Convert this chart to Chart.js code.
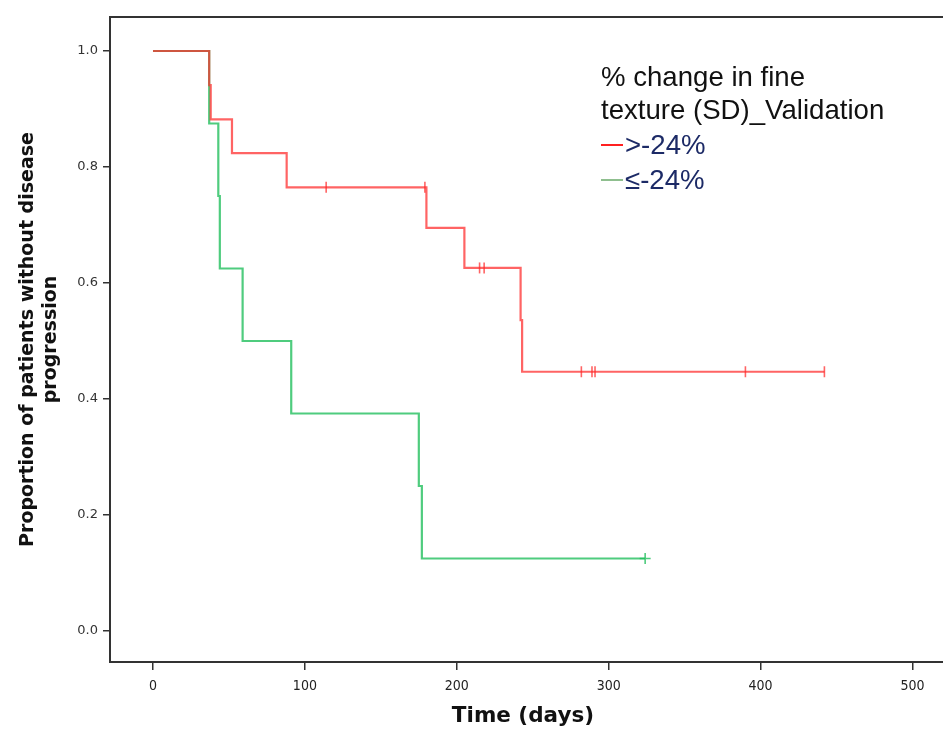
<!DOCTYPE html>
<html><head><meta charset="utf-8">
<script src="https://cdn.jsdelivr.net/npm/chart.js@4.4.1/dist/chart.umd.min.js"></script>
<style>
html,body{margin:0;padding:0;background:#fff;}
#wrap{position:relative;width:943px;height:729px;overflow:hidden;}
canvas{display:block;}
.lg{position:absolute;font-family:'Liberation Sans',Arial,sans-serif;font-size:27.6px;white-space:nowrap;line-height:30px;}
.sw{display:inline-block;width:22px;height:0;border-top:2px solid;vertical-align:middle;margin-right:2px;position:relative;top:-2px;}
</style></head><body>
<div id="wrap"><canvas id="c" width="943" height="729"></canvas>
<div class="lg" style="left:601px;top:62px;color:#111">% change in fine</div>
<div class="lg" style="left:601px;top:95px;color:#111">texture (SD)_Validation</div>
<div class="lg" style="left:601px;top:130px;color:#1c2a66"><span class="sw" style="border-color:#ff2020"></span>&gt;-24%</div>
<div class="lg" style="left:601px;top:165px;color:#1c2a66"><span class="sw" style="border-color:#8fbf8f"></span>≤-24%</div>
</div>
<script>
// Kaplan-Meier step points (time in days, proportion without progression)
const redTimes = [0, 37, 38, 52, 88, 180, 205, 242, 243, 442];
const redSurv  = [1.0, 0.941, 0.882, 0.824, 0.765, 0.695, 0.626, 0.536, 0.447, 0.447];
const redCensorTimes = [114, 179, 215, 218, 282, 289, 291, 390, 442];
const redCensorSurv  = [0.765, 0.765, 0.626, 0.626, 0.447, 0.447, 0.447, 0.447, 0.447];

const greenTimes = [0, 37, 43, 44, 59, 91, 175, 177, 324];
const greenSurv  = [1.0, 0.875, 0.75, 0.625, 0.5, 0.375, 0.25, 0.125, 0.125];
const greenCensorTimes = [324];
const greenCensorSurv  = [0.125];

const xTicks = [0, 100, 200, 300, 400, 500];
const yTicks = [0.0, 0.2, 0.4, 0.6, 0.8, 1.0];

const pts = (t, s) => t.map((v, i) => ({x: v, y: s[i]}));
const RED = 'rgba(255,40,40,0.72)';
const GREEN = 'rgba(30,190,90,0.78)';

const frame = {
  id: 'frame',
  afterDraw(chart) {
    const {ctx, chartArea: a} = chart;
    ctx.save();
    ctx.strokeStyle = '#333';
    ctx.lineWidth = 2;
    ctx.beginPath();
    ctx.moveTo(a.left, a.top);
    ctx.lineTo(chart.width, a.top);
    ctx.moveTo(a.right, a.bottom);
    ctx.lineTo(chart.width, a.bottom);
    ctx.stroke();
    ctx.restore();
  }
};

new Chart(document.getElementById('c'), {
  type: 'scatter',
  data: {datasets: [
    {data: pts(redTimes, redSurv), showLine: true, stepped: true, borderColor: RED, borderWidth: 2.2, pointRadius: 0, fill: false},
    {data: pts(greenTimes, greenSurv), showLine: true, stepped: true, borderColor: GREEN, borderWidth: 2.2, pointRadius: 0, fill: false},
    {data: pts(redCensorTimes, redCensorSurv), showLine: false, pointStyle: 'line', pointRotation: 90, pointRadius: 5.5, pointBorderColor: RED, pointBorderWidth: 1.6},
    {data: pts(greenCensorTimes, greenCensorSurv), showLine: false, pointStyle: 'cross', pointRadius: 5.5, pointBorderColor: GREEN, pointBorderWidth: 1.6}
  ]},
  options: {
    responsive: false,
    animation: false,
    layout: {padding: {top: 17, right: -6, left: 0, bottom: 0}},
    plugins: {legend: {display: false}, tooltip: {enabled: false}},
    scales: {
      x: {
        type: 'linear', min: -28.3, max: 515.4,
        afterBuildTicks: s => { s.ticks = xTicks.map(v => ({value: v})); },
        afterFit: s => { s.height = 67; },
        grid: {drawOnChartArea: false, tickLength: 8, color: '#333', lineWidth: 1.5},
        border: {color: '#333', width: 2},
        ticks: {font: {family: 'DejaVu Sans Condensed', size: 14}, color: '#222', padding: 8, maxRotation: 0},
        title: {display: true, text: 'Time (days)', font: {family: 'DejaVu Sans', weight: 'bold', size: 21.5}, color: '#111', padding: {top: 2, bottom: 0}}
      },
      y: {
        type: 'linear', min: -0.0534, max: 1.0586,
        afterBuildTicks: s => { s.ticks = yTicks.map(v => ({value: v})); },
        afterFit: s => { s.width = 110; },
        grid: {drawOnChartArea: false, tickLength: 7, color: '#333', lineWidth: 1.5},
        border: {color: '#333', width: 2},
        ticks: {font: {family: 'DejaVu Sans', size: 13}, color: '#333', padding: 5, callback: v => v.toFixed(1)},
        title: {display: true, text: ['Proportion of patients without disease', 'progression'], font: {family: 'DejaVu Sans', weight: 'bold', size: 19, lineHeight: 1.2}, color: '#111', padding: {top: 17, bottom: 0}}
      }
    }
  },
  plugins: [frame]
});
</script>
</body></html>
